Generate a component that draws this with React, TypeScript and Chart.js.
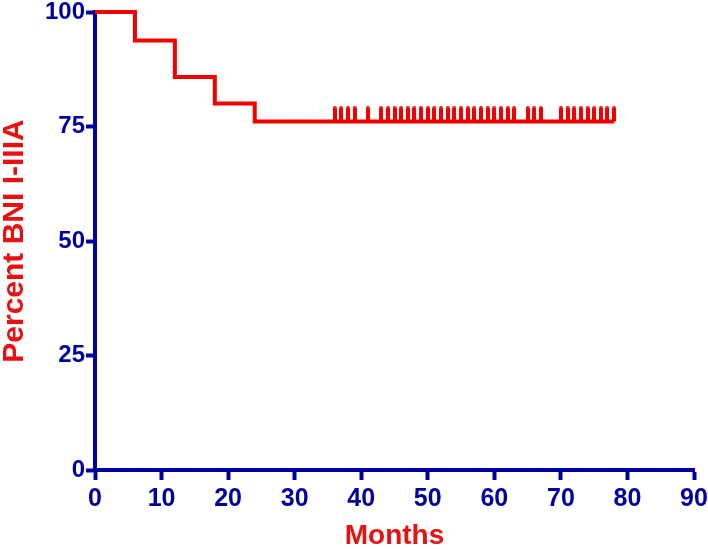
import React, { useEffect, useRef } from "react";
import { Chart, registerables } from "chart.js";

Chart.register(...registerables);

// Kaplan-Meier step curve (months, percent)
const stepMonths = [0, 6, 12, 18, 24, 78];
const stepPercent = [100, 93.8, 85.8, 80.0, 76.1, 76.1];

// Censored observations (months)
const censorMonths = [
  36, 37, 38, 39, 41,
  43, 44, 45, 46, 47, 48, 49, 50, 51, 52, 53, 54, 55, 56, 57, 58, 59, 60, 61, 62, 63,
  65, 66, 67,
  70, 71, 72, 73, 74, 75, 76, 77, 78,
];

const xTicks = [0, 10, 20, 30, 40, 50, 60, 70, 80, 90];
const yTicks = [0, 25, 50, 75, 100];

const xTitle = "Months";
const yTitle = "Percent BNI I-IIIA";

const BLUE = "#0000a0";
const RED = "#f40000";
const TITLE_RED = "#e81010";
const FONT = "'Liberation Sans', Arial, Helvetica, sans-serif";

function survivalAt(t: number): number {
  let v = stepPercent[0];
  for (let i = 0; i < stepMonths.length; i++) {
    if (stepMonths[i] <= t) v = stepPercent[i];
  }
  return v;
}

function makeCensorMark(): HTMLCanvasElement {
  const c = document.createElement("canvas");
  c.width = 4;
  c.height = 30;
  const ctx = c.getContext("2d")!;
  ctx.fillStyle = RED;
  ctx.beginPath();
  ctx.arc(2, 2, 2, 0, Math.PI * 2);
  ctx.fill();
  ctx.fillRect(0, 2, 4, 13);
  return c;
}

export default function App() {
  const ref = useRef<HTMLCanvasElement | null>(null);

  useEffect(() => {
    if (!ref.current) return;
    const mark = makeCensorMark();
    const chart = new Chart(ref.current, {
      type: "scatter",
      data: {
        datasets: [
          {
            label: "censored",
            data: censorMonths.map((m) => ({ x: m, y: survivalAt(m) })),
            pointStyle: mark as any,
            pointRadius: 5,
            showLine: false,
            clip: false as any,
            order: 0,
          },
          {
            label: "survival",
            data: stepMonths.map((m, i) => ({ x: m, y: stepPercent[i] })),
            showLine: true,
            stepped: "before",
            borderColor: RED,
            borderWidth: 4,
            pointRadius: 0,
            borderCapStyle: "butt",
            borderJoinStyle: "miter",
            clip: false as any,
            order: 1,
          },
        ],
      },
      options: {
        animation: false,
        responsive: true,
        maintainAspectRatio: false,
        layout: { padding: { top: 12, right: 14, left: 0, bottom: 0 } },
        plugins: {
          legend: { display: false },
          tooltip: { enabled: false },
        },
        scales: {
          x: {
            type: "linear",
            min: 0,
            max: 90,
            afterBuildTicks: (s: any) => {
              s.ticks = xTicks.map((v) => ({ value: v }));
            },
            afterFit: (s: any) => {
              s.height = 80;
              s.paddingRight = 0;
              s.paddingLeft = 0;
            },
            border: { display: true, color: BLUE, width: 4 },
            grid: {
              display: true,
              drawOnChartArea: false,
              drawTicks: true,
              tickLength: 10,
              tickWidth: 4,
              tickColor: BLUE,
              color: BLUE,
            },
            ticks: {
              color: BLUE,
              font: { family: FONT, size: 25, weight: "bold" },
              padding: 4,
              maxRotation: 0,
            },
            title: {
              display: true,
              text: xTitle,
              color: TITLE_RED,
              font: { family: FONT, size: 28, weight: "bold", lineHeight: 1 },
              padding: { top: 0, bottom: 0 },
            },
          },
          y: {
            type: "linear",
            min: 0,
            max: 100,
            afterBuildTicks: (s: any) => {
              s.ticks = yTicks.map((v) => ({ value: v }));
            },
            afterFit: (s: any) => {
              s.width = 95;
              s.paddingTop = 0;
              s.paddingBottom = 0;
            },
            border: { display: true, color: BLUE, width: 4 },
            grid: {
              display: true,
              drawOnChartArea: false,
              drawTicks: true,
              tickLength: 9,
              tickWidth: 4,
              tickColor: BLUE,
              color: BLUE,
            },
            ticks: {
              color: BLUE,
              font: { family: FONT, size: 24, weight: "bold" },
              padding: 1,
            },
            title: {
              display: true,
              text: yTitle,
              color: TITLE_RED,
              font: { family: FONT, size: 30, weight: "bold", lineHeight: 1 },
              padding: { top: 0, bottom: 0 },
            },
          },
        },
      },
    });
    return () => chart.destroy();
  }, []);

  return (
    <div style={{ position: "fixed", left: 0, top: 0, width: 708, height: 550, background: "#fff" }}>
      <canvas ref={ref} />
    </div>
  );
}
